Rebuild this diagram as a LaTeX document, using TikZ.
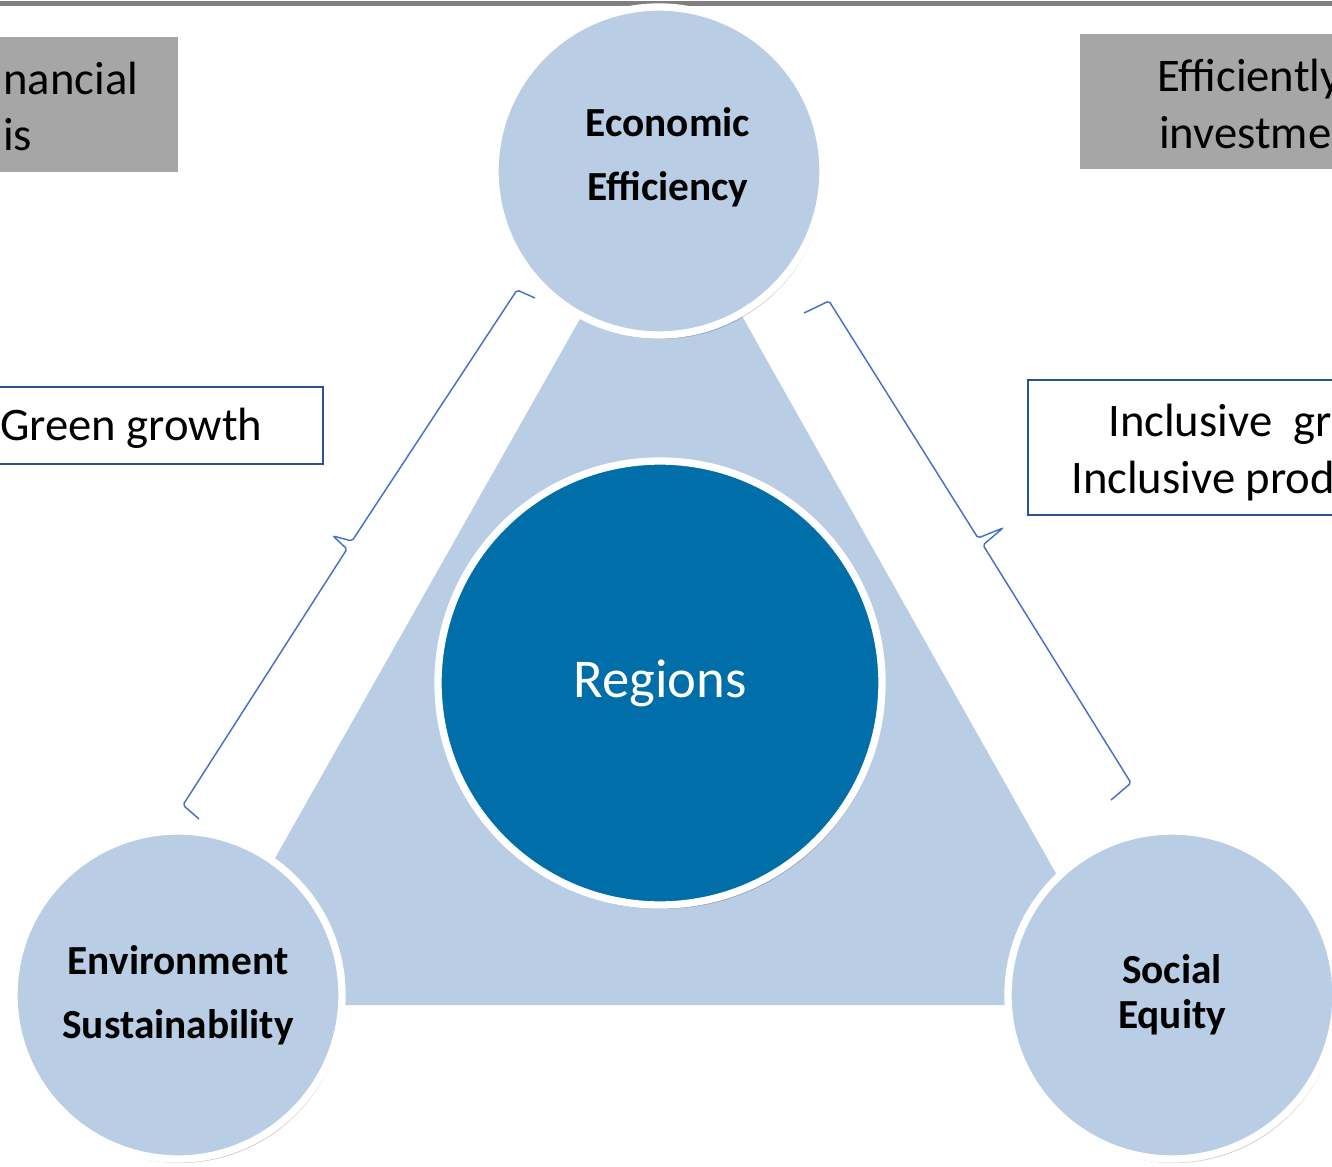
\documentclass[tikz,border=0pt]{standalone}
\usepackage{fontspec}
\setmainfont{Carlito}
\usetikzlibrary{shadows}

\definecolor{paleblue}{HTML}{B9CDE5}
\definecolor{deepblue}{HTML}{006EA8}
\definecolor{bracecol}{HTML}{4472C4}
\definecolor{framecol}{HTML}{2F528F}
\definecolor{greybox}{HTML}{A6A6A6}
\definecolor{rulegrey}{HTML}{808080}

\tikzset{
  pillar/.style={circle, fill=paleblue, draw=white, line width=5.5pt,
    minimum size=246pt, inner sep=0pt,
    drop shadow={shadow xshift=1.5pt, shadow yshift=-3pt, opacity=0.22, fill=black}},
  pillartext/.style={font=\fontsize{31}{48}\selectfont\bfseries, align=center},
  boxtext/.style={font=\fontsize{35}{42}\selectfont, anchor=base west, inner sep=0pt},
  bracket/.style={draw=bracecol, line width=1.1pt, rounded corners=1.5pt},
}

\begin{document}
\begin{tikzpicture}[x=0.75pt,y=-0.75pt]
\useasboundingbox (0,0) rectangle (1332,1167);

% rule along the top
\draw[rulegrey, line width=3.75pt] (0,3.5) -- (1332,3.5);

% grey boxes
\fill[greybox] (-20,37) rectangle (178,172);
\node[boxtext] (fin1) at (3,94) {nancial};
\node[boxtext] (fin2) at (3,150) {is};

\fill[greybox] (1080,34) rectangle (1350,169);
\node[boxtext] (inv1) at (1157,91) {Efficiently};
\node[boxtext] (inv2) at (1159,148) {investme};

% framed boxes
\draw[framecol, line width=1.1pt, fill=white] (-20,387) rectangle (323,464);
\node[boxtext] (green) at (0,440) {Green growth};

\draw[framecol, line width=1.1pt, fill=white] (1028,380) rectangle (1350,515);
\node[boxtext] (incl1) at (1108,436) {Inclusive\ \ gr};
\node[boxtext] (incl2) at (1071,493) {Inclusive prod};

% triangle behind the circles
\fill[paleblue] (662,174) -- (192,1005) -- (1130,1005) -- cycle;

% braces
\draw[bracket] (535,298) -- (517,290) -- (352,541) -- (333,536) -- (347,549)
  -- (183,805) -- (199,819);
\draw[bracket] (804,313) -- (829,301) -- (978,538) -- (1003,528) -- (983,545)
  -- (1131,783) -- (1111,800);

% circles
\node[pillar] (eco) at (659,171) {};
\node[pillartext] (ecotext) at (668,157) {Economic\\Efficiency};

\node[pillar, pillartext] (env) at (178,995) {Environment\\Sustainability};
\node[pillar, pillartext, font=\fontsize{31}{34}\selectfont\bfseries] (soc)
  at (1172,995) {Social\\Equity};

\node[pillar, fill=deepblue, minimum size=333pt, text=white,
  font=\fontsize{41}{49}\selectfont] (reg) at (660,683) {Regions};
\end{tikzpicture}
\end{document}
